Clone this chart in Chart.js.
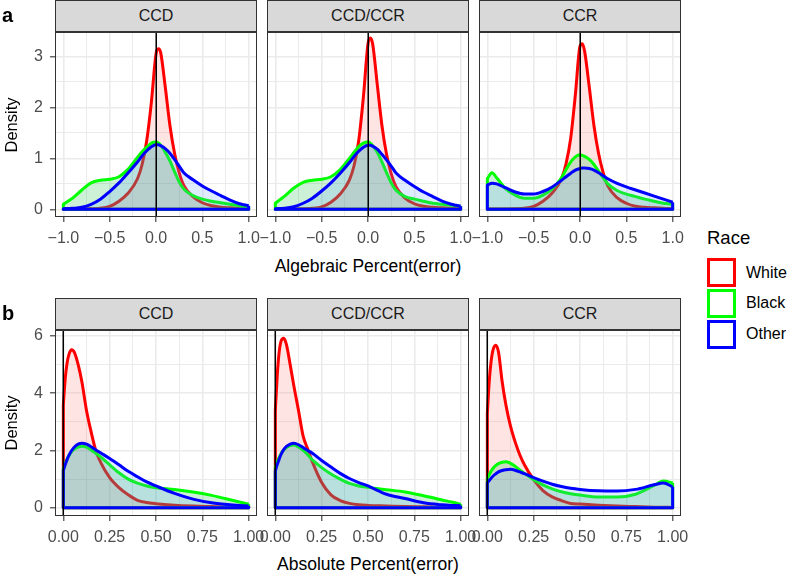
<!DOCTYPE html>
<html><head><meta charset="utf-8">
<script src="https://cdn.jsdelivr.net/npm/chart.js@4.4.1/dist/chart.umd.min.js"></script>
<style>
html,body{margin:0;padding:0;background:#fff}
#root{position:relative;width:787px;height:576px;overflow:hidden;font-family:"Liberation Sans",Arial,Helvetica,sans-serif;}
.strip{position:absolute;box-sizing:border-box;background:#D9D9D9;border:1px solid #333;color:#1A1A1A;font-size:16px;text-align:center;line-height:30px;}
canvas{position:absolute}
.txt{position:absolute;white-space:nowrap;color:#000;line-height:20px;height:20px}
.key{position:absolute;box-sizing:border-box;width:29px;height:29px;border:3px solid;background:#fff}
</style></head>
<body><div id="root"></div>
<script>
// ---------- data ----------
const races = ["White", "Black", "Other"];
const facets = ["CCD", "CCD/CCR", "CCR"];
const lineColors = ["#FF0000", "#00FF00", "#0000FF"];
const fillColors = ["rgba(248,118,109,0.2)", "rgba(0,186,56,0.2)", "rgba(97,156,255,0.2)"];

// panel a: Algebraic Percent(error)
const algX = [-1, -0.95, -0.9, -0.8, -0.7, -0.6, -0.5, -0.4, -0.3, -0.2, -0.15, -0.1, -0.05, 0, 0.025, 0.05, 0.1, 0.15, 0.2, 0.25, 0.3, 0.4, 0.5, 0.6, 0.7, 0.8, 0.9, 0.95, 1];
const algCCDWhite = [0.005,0.005,0.005,0.006,0.01,0.02,0.06,0.16,0.32,0.6,0.88,1.35,2.1,3.05,3.15,3.08,2.4,1.65,1.1,0.72,0.47,0.25,0.13,0.07,0.04,0.03,0.02,0.015,0.01];
const algCCDBlack = [0.1,0.16,0.22,0.38,0.52,0.57,0.59,0.64,0.79,1.02,1.13,1.22,1.3,1.32,1.3,1.26,1.12,0.95,0.74,0.54,0.4,0.27,0.2,0.16,0.13,0.1,0.07,0.06,0.05];
const algCCDOther = [0.01,0.015,0.02,0.04,0.1,0.2,0.35,0.52,0.72,0.93,1.05,1.15,1.23,1.27,1.27,1.25,1.19,1.1,0.98,0.85,0.72,0.58,0.46,0.36,0.27,0.18,0.11,0.09,0.07];
const algMixWhite = [0.005,0.005,0.005,0.006,0.01,0.02,0.05,0.14,0.3,0.58,0.86,1.35,2.2,3.25,3.36,3.25,2.45,1.65,1.08,0.7,0.45,0.22,0.11,0.06,0.04,0.03,0.02,0.015,0.01];
const algMixBlack = [0.12,0.19,0.26,0.42,0.53,0.57,0.59,0.64,0.78,1.0,1.12,1.23,1.3,1.32,1.3,1.25,1.12,0.93,0.72,0.52,0.38,0.25,0.2,0.16,0.12,0.1,0.08,0.07,0.06];
const algMixOther = [0.01,0.015,0.02,0.05,0.12,0.22,0.36,0.52,0.71,0.92,1.04,1.14,1.22,1.26,1.26,1.24,1.18,1.08,0.97,0.85,0.72,0.57,0.45,0.34,0.25,0.16,0.1,0.08,0.06];
const algCCRWhite = [0.005,0.005,0.005,0.006,0.01,0.02,0.06,0.16,0.32,0.6,0.9,1.4,2.25,3.2,3.25,3.1,2.4,1.65,1.1,0.72,0.46,0.23,0.12,0.06,0.04,0.03,0.02,0.015,0.01];
const algCCRBlack = [0.6,0.72,0.62,0.4,0.28,0.22,0.22,0.28,0.4,0.62,0.78,0.93,1.03,1.07,1.06,1.04,0.98,0.88,0.75,0.62,0.5,0.37,0.3,0.25,0.2,0.16,0.12,0.11,0.1];
const algCCROther = [0.48,0.51,0.5,0.42,0.34,0.3,0.3,0.35,0.44,0.57,0.64,0.71,0.77,0.8,0.81,0.81,0.8,0.77,0.72,0.66,0.6,0.51,0.44,0.38,0.32,0.26,0.2,0.17,0.14];

// panel b: Absolute Percent(error)
const absX = [0, 0.01, 0.02, 0.03, 0.045, 0.06, 0.08, 0.1, 0.125, 0.15, 0.175, 0.2, 0.25, 0.3, 0.35, 0.4, 0.45, 0.5, 0.6, 0.7, 0.8, 0.9, 0.95, 1];
const absCCDWhite = [3.6,4.5,5.05,5.35,5.52,5.42,5.0,4.4,3.4,2.65,2.0,1.6,1.05,0.7,0.45,0.26,0.18,0.14,0.09,0.06,0.04,0.02,0.015,0.01];
const absCCDBlack = [1.37,1.55,1.7,1.82,1.96,2.05,2.12,2.15,2.12,2.02,1.9,1.78,1.5,1.22,1.0,0.86,0.76,0.7,0.64,0.55,0.43,0.28,0.2,0.12];
const absCCDOther = [1.3,1.5,1.68,1.83,2.0,2.12,2.22,2.25,2.22,2.13,2.02,1.92,1.72,1.5,1.27,1.08,0.9,0.76,0.5,0.3,0.17,0.1,0.08,0.06];
const absMixWhite = [3.4,4.6,5.4,5.8,5.92,5.7,5.0,4.25,3.4,2.5,2.05,1.6,0.88,0.45,0.25,0.15,0.1,0.08,0.06,0.04,0.03,0.02,0.015,0.01];
const absMixBlack = [1.41,1.6,1.75,1.88,2.02,2.1,2.17,2.19,2.12,2.0,1.85,1.67,1.4,1.18,1.0,0.85,0.76,0.71,0.63,0.55,0.42,0.27,0.2,0.12];
const absMixOther = [1.29,1.5,1.68,1.85,2.03,2.14,2.22,2.25,2.2,2.1,2.0,1.9,1.65,1.42,1.2,1.02,0.88,0.76,0.47,0.32,0.17,0.1,0.08,0.07];
const absCCRWhite = [3.3,4.4,5.1,5.5,5.68,5.45,4.4,3.6,2.85,2.3,1.85,1.5,0.98,0.6,0.38,0.25,0.15,0.13,0.09,0.06,0.04,0.02,0.015,0.01];
const absCCRBlack = [1.03,1.15,1.27,1.37,1.47,1.54,1.59,1.61,1.55,1.45,1.32,1.2,0.98,0.8,0.66,0.56,0.49,0.44,0.37,0.37,0.47,0.78,0.93,0.87];
const absCCROther = [0.87,0.95,1.03,1.1,1.18,1.25,1.3,1.33,1.34,1.31,1.25,1.19,1.05,0.93,0.82,0.74,0.68,0.64,0.59,0.58,0.64,0.8,0.86,0.73];

// tick labels
const algXTicks = [-1, -0.5, 0, 0.5, 1];
const algYTicks = [0, 1, 2, 3];
const absXTicks = [0, 0.25, 0.5, 0.75, 1];
const absYTicks = [0, 2, 4, 6];
const vlineAt = 0;

// ---------- layout ----------
const root = document.getElementById('root');
const FACET_LEFT = [55, 267, 479];
const FACET_W = 202;
const FONT = '"Liberation Sans", Arial, sans-serif';

const isIn = (v, arr) => arr.some(t => Math.abs(t - v) < 1e-7);
const minus = s => s.replace('-', '\u2212');

const decoPlugin = {
  id: 'deco',
  afterDatasetsDraw(chart) {
    const { ctx, chartArea: a, scales } = chart;
    const px = Math.round(scales.x.getPixelForValue(vlineAt)) + 0.25;
    ctx.save();
    ctx.strokeStyle = '#000';
    ctx.lineWidth = 1.5;
    ctx.beginPath(); ctx.moveTo(px, a.top); ctx.lineTo(px, a.bottom); ctx.stroke();
    ctx.strokeStyle = '#333333';
    ctx.lineWidth = 1;
    ctx.strokeRect(a.left + 0.5, a.top + 0.5, a.right - a.left - 1, a.bottom - a.top - 1);
    ctx.restore();
  }
};

function facetChart(cfg) {
  const showY = cfg.showY;
  const padL = showY ? 55 : 14, padR = 14, padT = 12, axisH = 34;
  const h = cfg.plotBottom - cfg.plotTop;
  const cv = document.createElement('canvas');
  cv.width = padL + FACET_W + padR;
  cv.height = padT + h + axisH;
  cv.style.left = (cfg.left - padL) + 'px';
  cv.style.top = (cfg.plotTop - padT) + 'px';
  root.appendChild(cv);

  const datasets = [];
  cfg.series.forEach((ys, i) => {
    const xs = cfg.xs;
    const n = xs.length - 1;
    datasets.push({
      label: races[i],
      data: xs.map((x, k) => ({ x, y: ys[k] })),
      borderColor: lineColors[i], backgroundColor: fillColors[i],
      fill: 'origin', borderWidth: 3, pointRadius: 0,
      cubicInterpolationMode: 'monotone', borderJoinStyle: 'round',
      order: 2 * (3 - i)
    });
    datasets.push({
      label: races[i] + ' edge',
      data: [{ x: xs[0], y: ys[0] }, { x: xs[0], y: 0 }, { x: xs[n], y: 0 }, { x: xs[n], y: ys[n] }],
      borderColor: lineColors[i], borderWidth: 3, pointRadius: 0,
      fill: false, tension: 0, borderJoinStyle: 'round',
      order: 2 * (3 - i) - 1
    });
  });

  const tickFont = { family: FONT, size: 16 };
  new Chart(cv, {
    type: 'line',
    data: { datasets },
    plugins: [decoPlugin],
    options: {
      responsive: false, animation: false, devicePixelRatio: 1,
      layout: { padding: { left: showY ? 0 : padL, right: padR, top: padT, bottom: 0 } },
      plugins: { legend: { display: false }, tooltip: { enabled: false } },
      scales: {
        x: {
          type: 'linear', min: cfg.xMin, max: cfg.xMax,
          afterFit: s => { s.height = axisH; s.paddingLeft = 0; s.paddingRight = 0; },
          border: { display: false },
          grid: {
            color: '#EBEBEB',
            lineWidth: c => (c.tick && isIn(c.tick.value, cfg.xMajor)) ? 1.6 : 1,
            tickLength: 5,
            tickColor: c => (c.tick && isIn(c.tick.value, cfg.xMajor)) ? '#333333' : 'rgba(0,0,0,0)',
            tickWidth: 1.1
          },
          ticks: {
            stepSize: cfg.xStep, includeBounds: false, autoSkip: false,
            maxRotation: 0, minRotation: 0, padding: 7, color: '#4D4D4D', font: tickFont,
            callback: v => isIn(v, cfg.xMajor) ? minus(Number(v).toFixed(cfg.xDec)) : ''
          }
        },
        y: {
          type: 'linear', min: cfg.yMin, max: cfg.yMax,
          afterFit: s => { s.width = showY ? padL : 0; s.paddingTop = 0; s.paddingBottom = 0; },
          border: { display: false },
          grid: {
            color: '#EBEBEB',
            lineWidth: c => (c.tick && isIn(c.tick.value, cfg.yMajor)) ? 1.6 : 1,
            drawTicks: showY, tickLength: 5,
            tickColor: c => (c.tick && isIn(c.tick.value, cfg.yMajor)) ? '#333333' : 'rgba(0,0,0,0)',
            tickWidth: 1.1
          },
          ticks: {
            display: showY, stepSize: cfg.yStep, includeBounds: false, autoSkip: false,
            padding: 7, color: '#4D4D4D', font: tickFont,
            callback: v => isIn(v, cfg.yMajor) ? String(v) : ''
          }
        }
      }
    }
  });
}

function strip(left, top, label) {
  const d = document.createElement('div');
  d.className = 'strip';
  d.style.left = left + 'px'; d.style.top = top + 'px';
  d.style.width = FACET_W + 'px'; d.style.height = '32px';
  d.textContent = label;
  root.appendChild(d);
}
function text(str, css) {
  const d = document.createElement('div');
  d.className = 'txt';
  d.textContent = str;
  Object.assign(d.style, css);
  root.appendChild(d);
  return d;
}

const algSeries = [[algCCDWhite, algCCDBlack, algCCDOther], [algMixWhite, algMixBlack, algMixOther], [algCCRWhite, algCCRBlack, algCCROther]];
const absSeries = [[absCCDWhite, absCCDBlack, absCCDOther], [absMixWhite, absMixBlack, absMixOther], [absCCRWhite, absCCRBlack, absCCROther]];

facets.forEach((f, i) => {
  strip(FACET_LEFT[i], 0, f);
  facetChart({
    left: FACET_LEFT[i], plotTop: 32, plotBottom: 217, showY: i === 0,
    xs: algX, series: algSeries[i],
    xMin: -1.09, xMax: 1.09, xStep: 0.25, xMajor: algXTicks, xDec: 1,
    yMin: -0.15, yMax: 3.48, yStep: 0.5, yMajor: algYTicks
  });
  strip(FACET_LEFT[i], 298, f);
  facetChart({
    left: FACET_LEFT[i], plotTop: 330, plotBottom: 516, showY: i === 0,
    xs: absX, series: absSeries[i],
    xMin: -0.045, xMax: 1.045, xStep: 0.125, xMajor: absXTicks, xDec: 2,
    yMin: -0.29, yMax: 6.21, yStep: 1, yMajor: absYTicks
  });
});

// titles
text('a', { left: '2px', top: '5px', fontSize: '20px', fontWeight: 'bold' });
text('b', { left: '2px', top: '303px', fontSize: '20px', fontWeight: 'bold' });
text('Algebraic Percent(error)', { left: '168px', width: '400px', top: '256px', fontSize: '17.5px', textAlign: 'center' });
text('Absolute Percent(error)', { left: '168px', width: '400px', top: '554px', fontSize: '17.5px', textAlign: 'center' });
[124.5, 423].forEach(cy => {
  text('Density', { left: (1 - 50 + 10) + 'px', top: (cy - 10) + 'px', width: '100px', fontSize: '16.5px', textAlign: 'center', transform: 'rotate(-90deg)' });
});

// legend
text('Race', { left: '707px', top: '228px', fontSize: '18.5px' });
races.forEach((r, i) => {
  const k = document.createElement('div');
  k.className = 'key';
  k.style.left = '707px';
  k.style.top = (258 + i * 30.8) + 'px';
  k.style.borderColor = lineColors[i];
  root.appendChild(k);
  text(r, { left: '746px', top: (262.5 + i * 30.8) + 'px', fontSize: '16px' });
});
</script></body></html>
